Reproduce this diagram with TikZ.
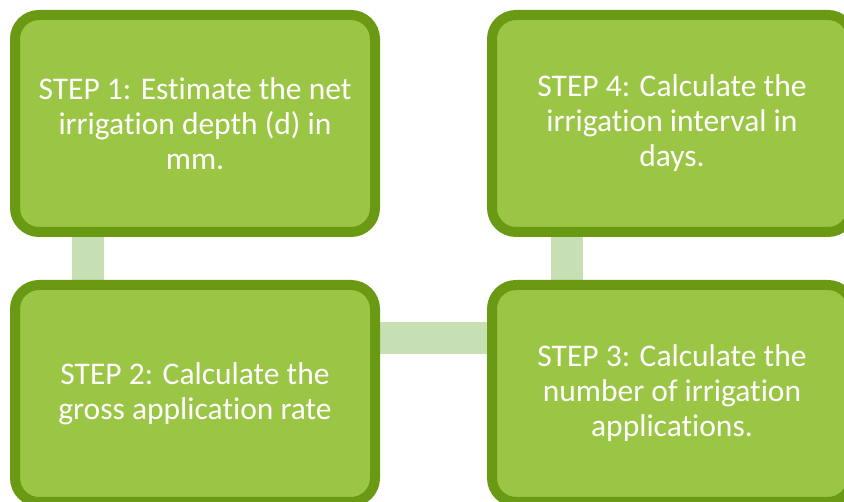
\documentclass[tikz,border=0pt]{standalone}
\usepackage{fontspec}
\setmainfont[Ligatures=NoCommon]{Carlito}
\usepackage{xcolor}
\usetikzlibrary{positioning, backgrounds}

\definecolor{stepfill}{HTML}{9BC545}
\definecolor{stepline}{HTML}{6A9A14}
\definecolor{linkgreen}{HTML}{C6E0B4}

\begin{document}
\begin{tikzpicture}[x=1pt, y=-1pt,
                        stepbox/.style={draw=stepline, fill=stepfill, line width=10pt, rounded corners=24pt, minimum width=360pt, minimum height=217pt, text=white, align=center, font=\fontsize{31.5}{35}\selectfont},
                        link/.style={linkgreen, line width=32pt}]
                        \useasboundingbox (0,0) rectangle (844,502);
                        \clip (0,0) rectangle (844,502);
                        \node[stepbox] (s1) at (195,123.5) {STEP 1: Estimate the net\\irrigation depth (d) in\\mm.};
                        \node[stepbox] (s4) at (672,123.5) {STEP 4: Calculate the\\irrigation interval in\\days.};
                        \node[stepbox] (s2) at (195,393.5) {STEP 2: Calculate the\\gross application rate};
                        \node[stepbox] (s3) at (672,393.5) {STEP 3: Calculate the\\number of irrigation\\applications.};
                        \begin{scope}[on background layer]
                        \draw[link] ([xshift=-107pt]s1.south) -- ([xshift=-107pt]s2.north);
                        \draw[link] ([xshift=-105pt]s4.south) -- ([xshift=-105pt]s3.north);
                        \draw[link] ([yshift=55pt]s2.east) -- ([yshift=55pt]s3.west);
                        \end{scope}
                    \end{tikzpicture}
\end{document}
